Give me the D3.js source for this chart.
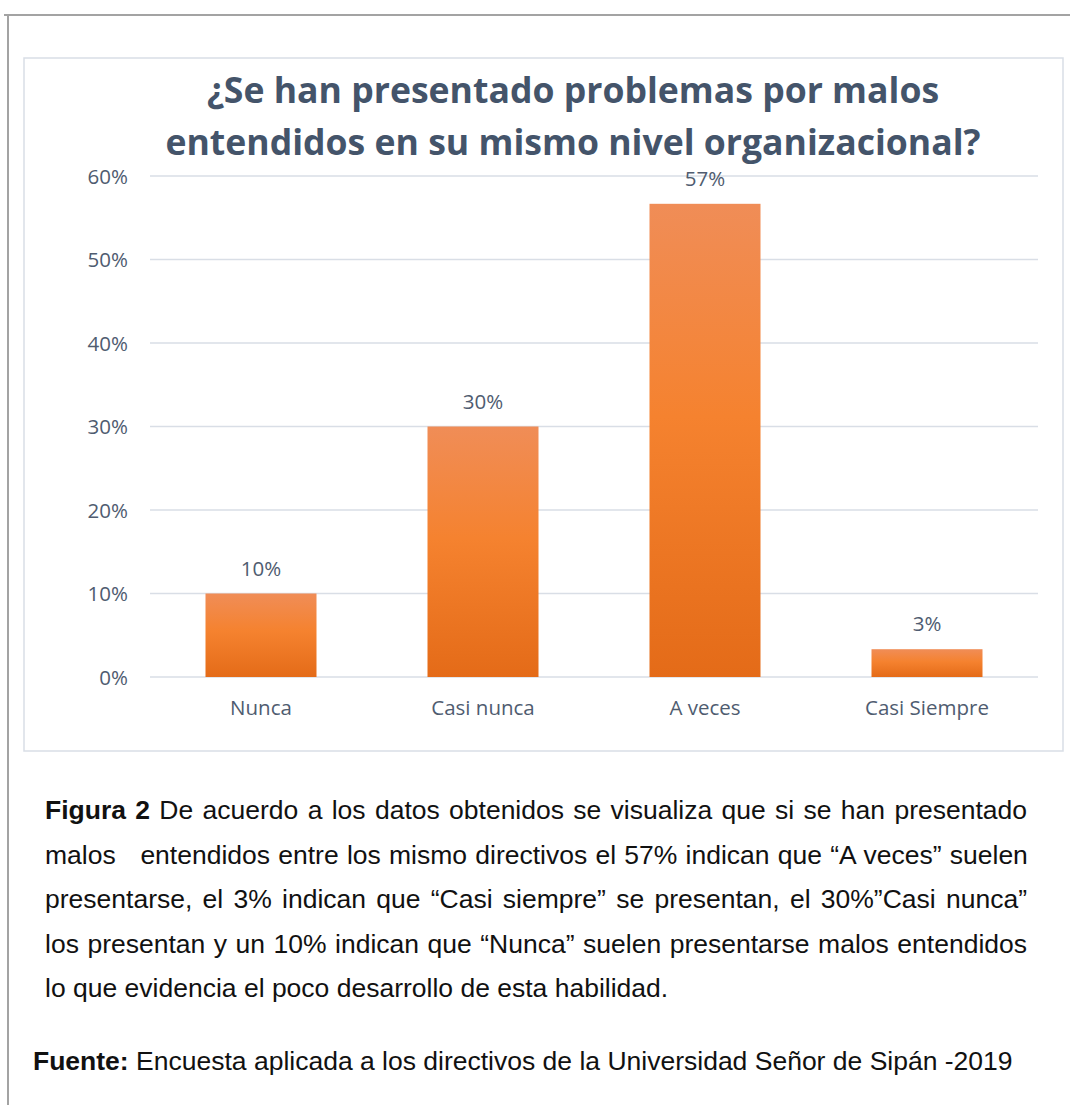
<!DOCTYPE html>
<html>
<head>
<meta charset="utf-8">
<script src="https://cdn.jsdelivr.net/npm/d3@7"></script>
<style>
  body { margin: 0; background: #fff; }
</style>
</head>
<body>
<script>
const categories = ['Nunca', 'Casi nunca', 'A veces', 'Casi Siempre'];
const values = [0.10, 0.30, 0.5667, 0.0333];
const yTicks = [0, 0.1, 0.2, 0.3, 0.4, 0.5, 0.6];
const titleLines = ['¿Se han presentado problemas por malos', 'entendidos en su mismo nivel organizacional?'];
const captionLines = [
  ['Figura 2', ' De acuerdo a los datos obtenidos se visualiza que si se han presentado'],
  ['', 'malos \u00a0 entendidos entre los mismo directivos el 57% indican que \u201cA veces\u201d suelen'],
  ['', 'presentarse, el 3% indican que \u201cCasi siempre\u201d se presentan, el 30%\u201dCasi nunca\u201d'],
  ['', 'los presentan y un 10% indican que \u201cNunca\u201d suelen presentarse malos entendidos'],
  ['', 'lo que evidencia el poco desarrollo de esta habilidad.']
];
const sourceLabel = 'Fuente:';
const sourceText = ' Encuesta aplicada a los directivos de la Universidad Señor de Sipán -2019';

const W = 1070, H = 1105;
const svg = d3.select('body').append('svg').attr('width', W).attr('height', H);

// page frame (document border)
svg.append('line').attr('x1', 4).attr('x2', W).attr('y1', 15).attr('y2', 15)
  .attr('stroke', '#a3a3a3').attr('stroke-width', 2);
svg.append('line').attr('x1', 8).attr('x2', 8).attr('y1', 14).attr('y2', H)
  .attr('stroke', '#a3a3a3').attr('stroke-width', 2);

// chart area border
svg.append('rect').attr('x', 24).attr('y', 58).attr('width', 1039).attr('height', 693)
  .attr('fill', '#fff').attr('stroke', '#d9dee6').attr('stroke-width', 1.5);

const grad = svg.append('defs').append('linearGradient')
  .attr('id', 'barGrad').attr('x1', 0).attr('y1', 0).attr('x2', 0).attr('y2', 1);
grad.append('stop').attr('offset', '0%').attr('stop-color', '#f08d57');
grad.append('stop').attr('offset', '45%').attr('stop-color', '#f5822f');
grad.append('stop').attr('offset', '100%').attr('stop-color', '#e46b18');

const x = d3.scaleBand().domain(categories).range([150, 1038]).paddingInner(0.5).paddingOuter(0.25);
const y = d3.scaleLinear().domain([0, 0.6]).range([677, 176]);

// title
svg.append('text')
  .attr('x', 573).attr('y', 103)
  .attr('text-anchor', 'middle')
  .style('font-family', '"Open Sans", sans-serif')
  .style('font-weight', 700).style('font-size', '35.6px').attr('fill', '#44546a')
  .selectAll('tspan').data(titleLines).join('tspan')
  .attr('x', 573).attr('dy', (d, i) => i ? 52 : 0).text(d => d);

// gridlines
svg.append('g').selectAll('line').data(yTicks).join('line')
  .attr('x1', 150).attr('x2', 1038)
  .attr('y1', d => y(d)).attr('y2', d => y(d))
  .attr('stroke', '#d9dee6').attr('stroke-width', 1.5);

const labelFont = '"Open Sans", sans-serif';
const labelColor = '#4f5c70';
const labelSize = '20.5px';

// y axis
const yAxis = svg.append('g').attr('transform', 'translate(128,0)')
  .call(d3.axisLeft(y).tickValues(yTicks).tickFormat(d3.format('.0%')).tickSize(0).tickPadding(0));
yAxis.select('.domain').remove();
yAxis.selectAll('text').style('font-family', labelFont).style('font-size', labelSize)
  .attr('fill', labelColor).attr('dy', '0.35em');

// x axis
const xAxis = svg.append('g').attr('transform', 'translate(0,677)')
  .call(d3.axisBottom(x).tickSize(0).tickPadding(23));
xAxis.select('.domain').remove();
xAxis.selectAll('text').style('font-family', labelFont).style('font-size', labelSize)
  .attr('fill', labelColor);

// bars
svg.append('g').selectAll('rect').data(categories).join('rect')
  .attr('x', d => x(d))
  .attr('width', x.bandwidth())
  .attr('y', (d, i) => y(values[i]))
  .attr('height', (d, i) => y(0) - y(values[i]))
  .attr('fill', 'url(#barGrad)');

// data labels
svg.append('g').selectAll('text').data(categories).join('text')
  .attr('x', d => x(d) + x.bandwidth() / 2)
  .attr('y', (d, i) => y(values[i]) - 18)
  .attr('text-anchor', 'middle')
  .style('font-family', labelFont).style('font-size', labelSize)
  .attr('fill', labelColor)
  .text((d, i) => d3.format('.0%')(values[i]));

// caption, justified by spreading word gaps
const capFont = '"Liberation Sans", Arial, sans-serif';
const capSize = '26.5px';
const capLeft = 45, capRight = 1027;
captionLines.forEach((ln, i) => {
  const t = svg.append('text')
    .attr('x', capLeft).attr('y', 819 + i * 44.5)
    .style('font-family', capFont).style('font-size', capSize).attr('fill', '#111')
    .style('white-space', 'pre');
  if (ln[0]) t.append('tspan').style('font-weight', 700).text(ln[0]);
  t.append('tspan').text(ln[1]);
  if (i < captionLines.length - 1) {
    const full = ln[0] + ln[1];
    const gaps = (full.match(/ /g) || []).length;
    const extra = (capRight - capLeft - t.node().getComputedTextLength()) / gaps;
    t.style('word-spacing', extra + 'px');
  }
});
const src = svg.append('text').attr('x', 33).attr('y', 1070)
  .style('font-family', capFont).style('font-size', capSize).attr('fill', '#111')
  .style('white-space', 'pre');
src.append('tspan').style('font-weight', 700).text(sourceLabel);
src.append('tspan').text(sourceText);
</script>
</body>
</html>
